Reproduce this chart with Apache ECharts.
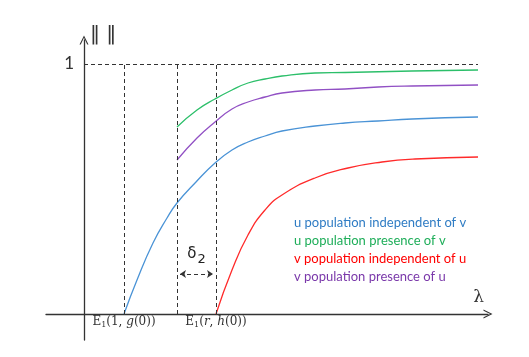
<!DOCTYPE html>
<html>
<head>
<meta charset="utf-8">
<script src="https://cdn.jsdelivr.net/npm/echarts@6/dist/echarts.min.js"></script>
<style>html,body{margin:0;padding:0;background:#fff}#c{width:529px;height:357px}</style>
</head>
<body>
<div id="c"></div>
<script>
// ---- data ----
var seriesNames = ['u population independent of v', 'u population presence of v', 'v population independent of u', 'v population presence of u'];
var seriesColors = ['#4a93d6', '#2cbf6a', '#ff2a2a', '#9150c4'];
var legendColors = ['#2f7cc4', '#1fae5a', '#ff0000', '#7a38aa'];
var uIndependent = [[1.0,0],[1.325,0.136],[1.725,0.284],[2.075,0.384],[2.325,0.444],[2.8,0.528],[3.275,0.604],[3.7,0.656],[4.1,0.688],[4.525,0.712],[4.95,0.732],[5.775,0.752],[6.525,0.764],[7.35,0.772],[8.2,0.78],[9.85,0.788]];
var uPresence = [[2.325,0.748],[2.825,0.816],[3.275,0.86],[3.7,0.896],[4.1,0.924],[4.525,0.94],[4.95,0.952],[5.775,0.964],[6.525,0.966],[8.2,0.972],[9.85,0.976]];
var vIndependent = [[3.3,0],[3.7,0.176],[4.1,0.316],[4.525,0.416],[4.95,0.476],[5.775,0.544],[6.6,0.584],[7.45,0.608],[8.275,0.62],[9.85,0.628]];
var vPresence = [[2.325,0.616],[2.825,0.704],[3.275,0.768],[3.7,0.82],[4.1,0.848],[4.525,0.868],[4.95,0.884],[5.775,0.896],[6.525,0.9],[7.35,0.908],[8.2,0.912],[9.85,0.916]];
var guideX = [1, 2.325, 3.3];
var levelOne = 1;
var levelEndX = 9.85;
var deltaArrow = [2.4, 3.225, 0.16];
var xTickValues = [1, 3.3];
var xTickLabels = ['{e|E}{s|1}{e|(1, }{i|g}{e|(0))}', '{e|E}{s|1}{e|(}{i|r}{e|, }{i|h}{e|(0))}'];
var yTickValues = [1];
var yTickLabels = ['1'];

// ---- chart ----
var chart = echarts.init(document.getElementById('c'));
var dashStyle = {type: [4, 3], color: '#333', width: 1};
var markData = guideX.map(function (x) { return [{coord: [x, 0]}, {coord: [x, levelOne]}]; });
markData.push([{coord: [0, levelOne]}, {coord: [levelEndX, levelOne]}]);
var arrowPath = 'path://M0,10 L5,0 L10,10 L8.6,10 L5,2.6 L1.4,10 Z';
var allData = [uIndependent, uPresence, vIndependent, vPresence];
var series = allData.map(function (d, i) {
  return {
    name: seriesNames[i], type: 'line', data: d, showSymbol: false, smooth: 0.5,
    lineStyle: {color: seriesColors[i], width: 1.3}, itemStyle: {color: seriesColors[i]}, silent: true, z: 3
  };
});
series[0].markLine = {
  silent: true, symbol: 'none', animation: false, lineStyle: dashStyle, label: {show: false}, data: markData
};
series[1].markLine = {
  silent: true, animation: false, symbol: ['arrow', 'arrow'], symbolSize: 6,
  lineStyle: dashStyle,
  label: {show: true, position: 'insideMiddleTop', distance: 8, formatter: '{d|δ}{s|2}',
    rich: {d: {fontSize: 15, fontFamily: 'DejaVu Sans', color: '#222'}, s: {fontSize: 13, fontFamily: 'DejaVu Sans', color: '#222', padding: [10, 0, 0, 1]}}},
  data: [[{coord: [deltaArrow[0], deltaArrow[2]]}, {coord: [deltaArrow[1], deltaArrow[2]]}]]
};
chart.setOption({
  animation: false,
  grid: {left: 46, right: 41, top: 40, bottom: 17},
  legend: {
    orient: 'vertical', left: 284, top: 211, itemWidth: 0, itemHeight: 14, itemGap: 4, selectedMode: false,
    textStyle: {fontFamily: 'Lato', fontSize: 13, lineHeight: 14},
    data: seriesNames.map(function (n, i) { return {name: n, icon: 'none', textStyle: {color: legendColors[i]}}; })
  },
  xAxis: {
    type: 'value', min: -0.95, max: 10.1,
    axisLine: {onZero: true, lineStyle: {color: '#333', width: 1.3}, symbol: ['none', arrowPath], symbolSize: [9, 11]},
    axisTick: {show: false}, splitLine: {show: false},
    axisLabel: {customValues: xTickValues, margin: -25, color: '#333',
      formatter: function (v) { return xTickLabels[xTickValues.indexOf(v)] || ''; },
      rich: {e: {fontFamily: 'DejaVu Serif', fontSize: 12, color: '#333'}, i: {fontFamily: 'DejaVu Serif', fontStyle: 'italic', fontSize: 12, color: '#333'}, s: {fontFamily: 'DejaVu Serif', fontSize: 8, color: '#333', padding: [6, 0, 0, 0]}}},
    name: 'λ', nameLocation: 'end', nameGap: -4,
    nameTextStyle: {fontFamily: 'DejaVu Serif', fontSize: 17, color: '#333', align: 'right', verticalAlign: 'bottom', padding: [0, 0, 8, 0]}
  },
  yAxis: {
    type: 'value', min: -0.104, max: 1.096,
    axisLine: {onZero: true, lineStyle: {color: '#333', width: 1.3}, symbol: ['none', arrowPath], symbolSize: [9, 11]},
    axisTick: {show: false}, splitLine: {show: false},
    axisLabel: {customValues: yTickValues, margin: -28, color: '#333', fontFamily: 'Lato', fontSize: 17,
      formatter: function (v) { return yTickLabels[yTickValues.indexOf(v)] || ''; }},
    name: '‖ ‖', nameLocation: 'end', nameGap: 5,
    nameTextStyle: {fontFamily: 'DejaVu Sans', fontSize: 20, color: '#333', align: 'left', verticalAlign: 'middle', padding: [0, 0, 0, 6]}
  },
  series: series
});
</script>
</body>
</html>
